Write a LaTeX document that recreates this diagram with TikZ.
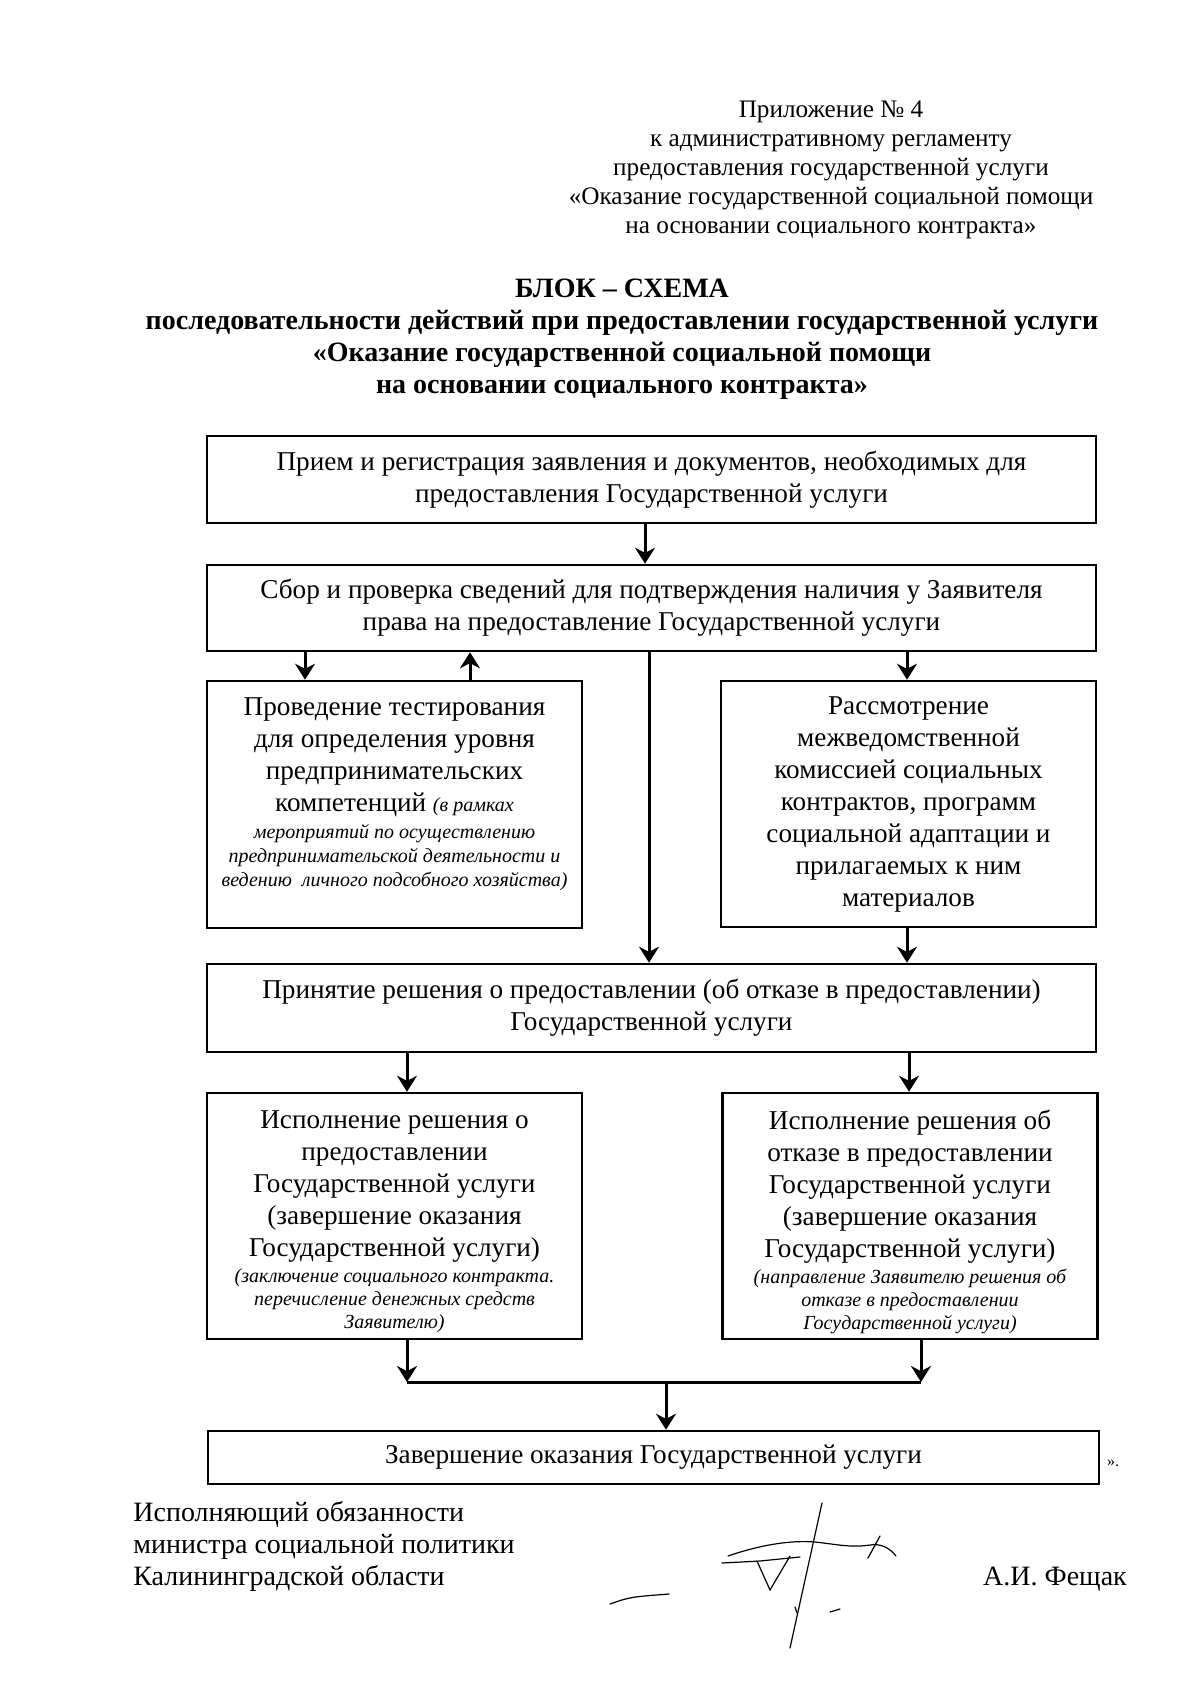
\documentclass[tikz,border=0pt]{standalone}
\usepackage{fontspec}
\setmainfont{Liberation Serif}
\usetikzlibrary{arrows.meta}
\newcommand\smit[1]{{\fontsize{10}{12}\selectfont\itshape #1}}
\begin{document}
\begin{tikzpicture}[x=0.5pt,y=-0.5pt,
  boxw/.style={draw, line width=1.3pt, inner sep=0pt, align=center, font=\fontsize{13.6}{16}\selectfont},
  txt/.style={inner sep=0pt, align=center, font=\fontsize{13.6}{16}\selectfont},
  arr/.style={line width=1.5pt, -{Stealth[length=8pt,width=10pt]}},
  conn/.style={line width=1.5pt},
  sig/.style={line width=0.6pt, line cap=round}
]
\useasboundingbox (0,0) rectangle (1200,1692);
\fill[white] (0,0) rectangle (1200,1692);

% header
\node[inner sep=0pt, align=center, font=\fontsize{12.6}{14.5}\selectfont] (hdr) at (831,170)
 {Приложение № 4\\
  к административному регламенту\\
  предоставления государственной услуги\\
  «Оказание государственной социальной помощи\\
  на основании социального контракта»};

% title
\node[inner sep=0pt, align=center, font=\fontsize{14}{16}\selectfont\bfseries] (ttl) at (622,339)
 {БЛОК – СХЕМА\\
  последовательности действий при предоставлении государственной услуги\\
  «Оказание государственной социальной помощи\\
  на основании социального контракта»};

% boxes
\node[boxw, minimum width=444.5pt, minimum height=43.5pt] (b1) at (651.5,479.5)
 {Прием и регистрация заявления и документов, необходимых для\\
  предоставления Государственной услуги};
\node[boxw, minimum width=444.5pt, minimum height=43pt] (b2) at (651.5,608)
 {Сбор и проверка сведений для подтверждения наличия у Заявителя\\
  права на предоставление Государственной услуги};
\node[boxw, minimum width=187.5pt, minimum height=123.5pt] (b3) at (394.5,804.5) {};
\node[txt, anchor=north] (t3) at (394.5,697)
 {Проведение тестирования\\
  для определения уровня\\
  предпринимательских\\
  компетенций \smit{(в рамках}\\[-2.5pt]
  \smit{мероприятий по осуществлению}\\[-4pt]
  \smit{предпринимательской деятельности и}\\[-4pt]
  \smit{ведению\ \ личного подсобного хозяйства)}};
\node[boxw, minimum width=187.5pt, minimum height=123pt] (b4) at (908.5,804)
 {Рассмотрение\\
  межведомственной\\
  комиссией социальных\\
  контрактов, программ\\
  социальной адаптации и\\
  прилагаемых к ним\\
  материалов};
\node[boxw, minimum width=444.5pt, minimum height=44pt] (b5) at (651.5,1008)
 {Принятие решения о предоставлении (об отказе в предоставлении)\\
  Государственной услуги};
\node[boxw, minimum width=187.5pt, minimum height=123pt] (b6) at (394.5,1216) {};
\node[txt, anchor=north] (t6) at (394.5,1110)
 {Исполнение решения о\\
  предоставлении\\
  Государственной услуги\\
  (завершение оказания\\
  Государственной услуги)\\[-3pt]
  \smit{(заключение социального контракта.}\\[-4.5pt]
  \smit{перечисление денежных средств}\\[-4.5pt]
  \smit{Заявителю)}};
\node[boxw, minimum width=187.5pt, minimum height=123pt] (b7) at (910,1216) {};
\node[txt, anchor=north] (t7) at (910,1110)
 {Исполнение решения об\\
  отказе в предоставлении\\
  Государственной услуги\\
  (завершение оказания\\
  Государственной услуги)\\[-3pt]
  \smit{(направление Заявителю решения об}\\[-4.5pt]
  \smit{отказе в предоставлении}\\[-4.5pt]
  \smit{Государственной услуги)}};
\node[boxw, minimum width=445.5pt, minimum height=26.5pt] (b8) at (653.5,1457.5)
 {Завершение оказания Государственной услуги};
\node[inner sep=0pt, font=\fontsize{8}{9}\selectfont] (qt) at (1113,1463) {».};

% x positions of connectors
\coordinate (xa) at (645,0);
\coordinate (xb) at (305,0);
\coordinate (xc) at (470,0);
\coordinate (xd) at (649,0);
\coordinate (xe) at (907,0);
\coordinate (xf) at (407,0);
\coordinate (xg) at (909,0);
\coordinate (xi) at (921,0);
\coordinate (m) at (666,1382);

\draw[arr] (b1.south -| xa) -- (b2.north -| xa);
\draw[arr] (b2.south -| xb) -- (b3.north -| xb);
\draw[arr] (b3.north -| xc) -- (b2.south -| xc);
\draw[arr] (b2.south -| xd) -- (b5.north -| xd);
\draw[arr] (b2.south -| xe) -- (b4.north -| xe);
\draw[arr] (b4.south -| xe) -- (b5.north -| xe);
\draw[arr] (b5.south -| xf) -- (b6.north -| xf);
\draw[arr] (b5.south -| xg) -- (b7.north -| xg);
\draw[arr] (b6.south -| xf) -- (m -| xf);
\draw[arr] (b7.south -| xi) -- (m -| xi);
\draw[conn] (m -| xf) -- (m -| xi);
\draw[arr] (m) -- (b8.north -| m);

% footer
\node[inner sep=0pt, anchor=west, align=left, font=\fontsize{14}{16}\selectfont] (ftr) at (133,1546)
 {Исполняющий обязанности\\
  министра социальной политики\\
  Калининградской области};
\node[inner sep=0pt, font=\fontsize{14}{16}\selectfont] (nm) at (1055,1579) {А.И. Фещак};

% signature
\draw[sig] (822,1503) -- (790,1648);
\draw[sig] (728,1556) .. controls (760,1545) and (790,1540) .. (815,1542) .. controls (835,1544) and (850,1548) .. (870,1545) .. controls (880,1543) and (890,1548) .. (896,1556);
\draw[sig] (722,1563) -- (760,1561) -- (800,1557);
\draw[sig] (757,1561) -- (770,1590) -- (790,1556);
\draw[sig] (880,1536) -- (868,1558);
\draw[sig] (610,1604) .. controls (630,1597) .. (669,1594);
\draw[sig] (795,1607) -- (797,1613);
\draw[sig] (830,1612) -- (840,1609);
\end{tikzpicture}
\end{document}
